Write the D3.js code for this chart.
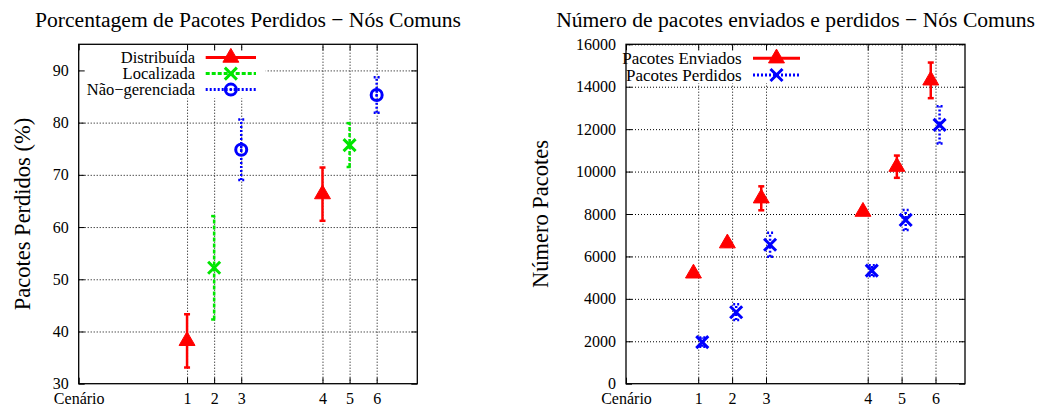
<!DOCTYPE html>
<html>
<head>
<meta charset="utf-8">
<script src="https://cdn.jsdelivr.net/npm/d3@7"></script>
<style>
  body { margin: 0; background: #fff; }
  svg text { font-family: "Liberation Serif", "DejaVu Serif", serif; fill: #000; }
</style>
</head>
<body>
<svg width="1038" height="409"></svg>
<script>
//--------------DATA------------------------------------------
const cenarios = ['1', '2', '3', '4', '5', '6'];
const cenarioX = [4, 5, 6, 9, 10, 11];

// porcentagem de pacotes perdidos (media, erro)
const distribuidaCen = ['1', '4'];
const distribuida = [38.2, 66.3];
const distribuidaErr = [5.1, 5.1];
const localizadaCen = ['2', '5'];
const localizada = [52.2, 75.7];
const localizadaErr = [9.9, 4.2];
const naoGerenciadaCen = ['3', '6'];
const naoGerenciada = [74.8, 85.3];
const naoGerenciadaErr = [5.8, 3.4];

// numero de pacotes
const enviados = [5200, 6620, 8740, 8110, 10230, 14300];
const enviadosErr = [150, 150, 565, 150, 525, 840];
const perdidos = [1960, 3370, 6550, 5330, 7720, 12200];
const perdidosErr = [220, 370, 570, 250, 470, 880];

const yTicksPerc = [30, 40, 50, 60, 70, 80, 90];
const yTicksPac = [0, 2000, 4000, 6000, 8000, 10000, 12000, 14000, 16000];

const RED = 'rgb(255, 0, 0)', GREEN = 'rgb(0, 230, 0)', BLUE = 'rgb(0, 0, 255)';
const FONT = '"Liberation Serif", "DejaVu Serif", serif';

const svg = d3.select('svg');

const top_ = 44.3, height = 339.4;

//--------------HELPERS---------------------------------------
function frame(g, xScale, yScale, xVals, yVals, width) {
  g.append('g')
   .attr('transform', 'translate(0,' + height + ')')
   .call(d3.axisBottom(xScale).tickValues(xVals.slice(1)).tickSize(-height).tickFormat(''))
   .call(a => a.select('.domain').remove())
   .selectAll('line').attr('stroke', '#555').attr('stroke-dasharray', '1,2');
  g.append('g')
   .call(d3.axisLeft(yScale).tickValues(yVals.slice(1)).tickSize(-width).tickFormat(''))
   .call(a => a.select('.domain').remove())
   .selectAll('line').attr('stroke', '#555').attr('stroke-dasharray', '1,2');
}

function axes(g, xScale, yScale, xVals, yVals, width) {
  const xLabels = ['Cenário'].concat(cenarios);
  g.append('g')
    .attr('transform', 'translate(0,' + height + ')')
    .call(d3.axisBottom(xScale).tickValues(xVals)
      .tickFormat((d, i) => xLabels[i]).tickSizeInner(-6).tickSizeOuter(0).tickPadding(9));
  g.append('g')
    .call(d3.axisLeft(yScale).tickValues(yVals).tickFormat(d3.format('d'))
      .tickSizeInner(-6).tickSizeOuter(0).tickPadding(10));
  g.append('g')
    .call(d3.axisTop(xScale).tickValues(xVals).tickFormat('').tickSizeInner(-6).tickSizeOuter(0));
  g.append('g')
    .attr('transform', 'translate(' + width + ',0)')
    .call(d3.axisRight(yScale).tickValues(yVals).tickFormat('').tickSizeInner(-6).tickSizeOuter(0));
  g.selectAll('.domain').remove();
  g.selectAll('g').attr('font-family', FONT);
  g.selectAll('.tick text').attr('font-size', 16);
  g.selectAll('.tick line').attr('stroke', '#000');
  g.append('rect')
   .attr('width', width).attr('height', height)
   .attr('fill', 'none').attr('stroke', '#000').attr('stroke-width', 1.3);
}

const markers = {
  triangle: d3.symbol(d3.symbolTriangle, 110),
  times: d3.symbol(d3.symbolTimes, 96),
  circle: d3.symbol(d3.symbolCircle, 95)
};

function marker(sel, type, color) {
  sel.attr('d', markers[type]())
     .attr('fill', type === 'triangle' ? color : 'none')
     .attr('stroke', color)
     .attr('stroke-width', type === 'triangle' ? 1 : 3);
}

function series(g, xs, vals, errs, xScale, yScale, color, dash, type) {
  const s = g.append('g');
  const pts = vals.map((v, i) => ({x: xs[i], v: v, e: errs[i]}));
  const bar = s.selectAll('g.bar').data(pts).join('g').attr('class', 'bar')
    .attr('stroke', color).attr('stroke-width', 2.5).attr('stroke-dasharray', dash);
  bar.append('line')
     .attr('x1', d => xScale(d.x)).attr('x2', d => xScale(d.x))
     .attr('y1', d => yScale(d.v - d.e)).attr('y2', d => yScale(d.v + d.e));
  bar.append('line')
     .attr('x1', d => xScale(d.x) - 3).attr('x2', d => xScale(d.x) + 3)
     .attr('y1', d => yScale(d.v - d.e)).attr('y2', d => yScale(d.v - d.e));
  bar.append('line')
     .attr('x1', d => xScale(d.x) - 3).attr('x2', d => xScale(d.x) + 3)
     .attr('y1', d => yScale(d.v + d.e)).attr('y2', d => yScale(d.v + d.e));
  s.selectAll('path').data(pts).join('path')
   .attr('transform', d => 'translate(' + xScale(d.x) + ',' + yScale(d.v) + ')')
   .call(marker, type, color);
  if (type === 'circle') {
    s.selectAll('circle').data(pts).join('circle')
     .attr('cx', d => xScale(d.x)).attr('cy', d => yScale(d.v))
     .attr('r', 1.3).attr('fill', color);
  }
}

function legend(g, items, textX, lineX0, lineX1, y0, dy, fs) {
  items.forEach((it, i) => {
    const y = y0 + i * dy;
    g.append('text')
     .attr('x', textX).attr('y', y).attr('dy', '0.33em')
     .attr('text-anchor', 'end').attr('font-size', fs).attr('font-family', FONT)
     .text(it.label);
    g.append('line')
     .attr('x1', lineX0).attr('x2', lineX1).attr('y1', y).attr('y2', y)
     .attr('stroke', it.color).attr('stroke-width', 3).attr('stroke-dasharray', it.dash);
    g.append('path')
     .attr('transform', 'translate(' + (lineX0 + lineX1) / 2 + ',' + y + ')')
     .call(marker, it.type, it.color);
    if (it.type === 'circle') {
      g.append('circle').attr('cx', (lineX0 + lineX1) / 2).attr('cy', y)
       .attr('r', 1.3).attr('fill', it.color);
    }
  });
}

function titles(g, width, title, ylabel, ylabelX) {
  g.append('text')
   .attr('x', width / 2).attr('y', 27 - top_)
   .attr('text-anchor', 'middle').attr('font-size', 21.6).attr('font-family', FONT)
   .text(title);
  g.append('text')
   .attr('transform', 'translate(' + ylabelX + ',' + height / 2 + ') rotate(-90)')
   .attr('dy', '0.35em')
   .attr('text-anchor', 'middle').attr('font-size', 22.5).attr('font-family', FONT)
   .text(ylabel);
}

const xId = c => cenarioX[cenarios.indexOf(c)];

//--------------LEFT: PORCENTAGEM-------------------------------
const wL = 338.6;
const gL = svg.append('g').attr('transform', 'translate(78.7,' + top_ + ')');
const xL = d3.scaleLinear().domain([0, 12.5]).range([0, wL]);
const yL = d3.scaleLinear().domain([30, 95]).range([height, 0]);
const xValsL = [0].concat(cenarioX);

frame(gL, xL, yL, xValsL, yTicksPerc, wL);
gL.append('rect').attr('x', 1).attr('y', 6).attr('width', 186).attr('height', 48).attr('fill', '#fff');
axes(gL, xL, yL, xValsL, yTicksPerc, wL);
titles(gL, wL, 'Porcentagem de Pacotes Perdidos − Nós Comuns', 'Pacotes Perdidos (%)', -57);

series(gL, distribuidaCen.map(xId), distribuida, distribuidaErr, xL, yL, RED, null, 'triangle');
series(gL, localizadaCen.map(xId), localizada, localizadaErr, xL, yL, GREEN, '4,2', 'times');
series(gL, naoGerenciadaCen.map(xId), naoGerenciada, naoGerenciadaErr, xL, yL, BLUE, '2,2', 'circle');

legend(gL, [
  {label: 'Distribuída', color: RED, dash: null, type: 'triangle'},
  {label: 'Localizada', color: GREEN, dash: '4,2', type: 'times'},
  {label: 'Não−gerenciada', color: BLUE, dash: '2,2', type: 'circle'}
], 116.3, 127, 177.3, 13.3, 16, 16.5);

//--------------RIGHT: NUMERO DE PACOTES-------------------------
const wR = 339;
const gR = svg.append('g').attr('transform', 'translate(626,' + top_ + ')');
const xR = d3.scaleLinear().domain([1.87, 11.87]).range([0, wR]);
const yR = d3.scaleLinear().domain([0, 16000]).range([height, 0]);
const xValsR = [1.87].concat(cenarioX);

frame(gR, xR, yR, xValsR, yTicksPac, wR);
gR.append('rect').attr('x', 1).attr('y', 6).attr('width', 178).attr('height', 33).attr('fill', '#fff');
axes(gR, xR, yR, xValsR, yTicksPac, wR);
titles(gR, wR, 'Número de pacotes enviados e perdidos − Nós Comuns', 'Número Pacotes', -86);

series(gR, cenarioX.map(x => x - 0.14), enviados, enviadosErr, xR, yR, RED, null, 'triangle');
series(gR, cenarioX.map(x => x + 0.12), perdidos, perdidosErr, xR, yR, BLUE, '2,2', 'times');

legend(gR, [
  {label: 'Pacotes Enviados', color: RED, dash: null, type: 'triangle'},
  {label: 'Pacotes Perdidos', color: BLUE, dash: '2,2', type: 'times'}
], 115.7, 127, 174, 14, 16.7, 17);
</script>
</body>
</html>
